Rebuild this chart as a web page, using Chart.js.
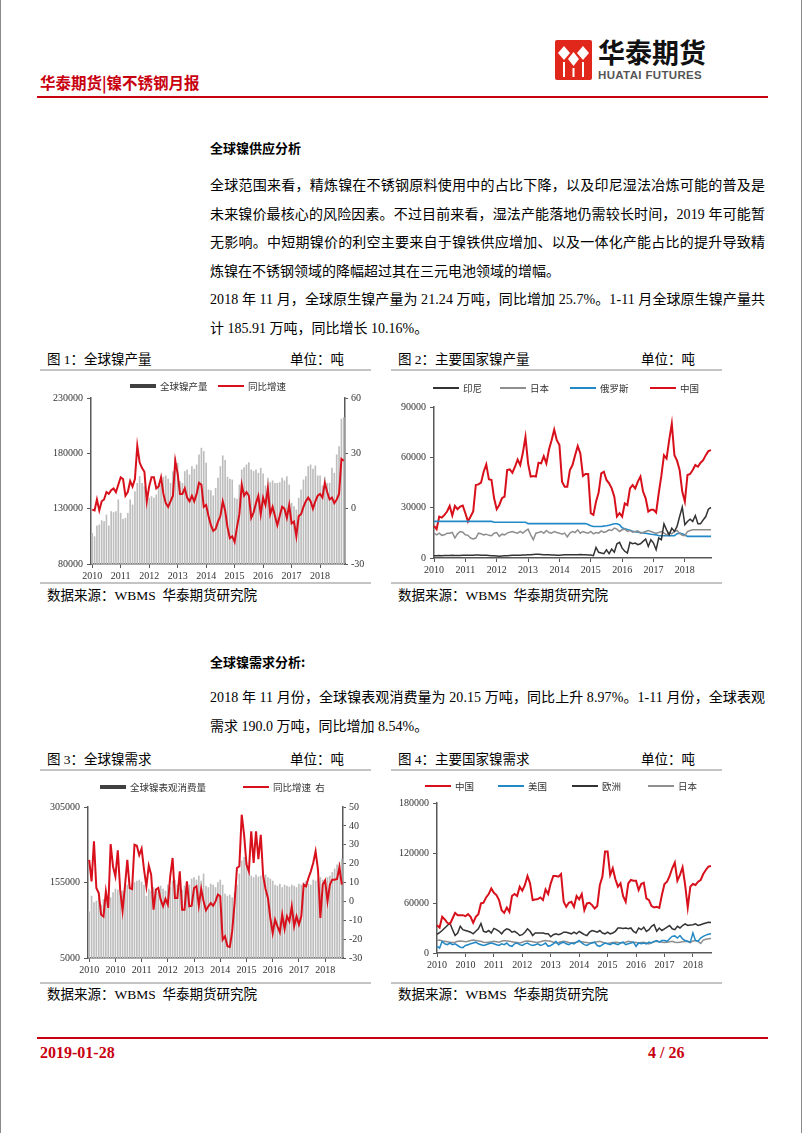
<!DOCTYPE html>
<html>
<head>
<meta charset="utf-8">
<script src="https://cdn.jsdelivr.net/npm/chart.js@4.4.1/dist/chart.umd.min.js"></script>
<style>
html, body { margin: 0; padding: 0; background: #fff; }
#page { position: relative; width: 802px; height: 1133px; overflow: hidden;
        font-family: "Liberation Serif", "Noto Sans CJK SC", serif; color: #000; }
.abs { position: absolute; white-space: nowrap; }
.rule-red { position: absolute; left: 37px; width: 731px; height: 2px; background: #c8000f; }
.rule-gray { position: absolute; height: 2px; background: #c4c4c4; }
.h2 { font-family: "Noto Sans CJK SC", sans-serif; font-weight: bold; font-size: 13px; line-height: 16px; }
.ln { font-size: 14px; line-height: 18px; left: 210px; display: inline-block; }
.cap { font-size: 13.5px; line-height: 16px; }
canvas { position: absolute; }
.edge { position: absolute; top: 0; width: 1px; height: 1133px; background: #8a8a8a; }
</style>
</head>
<body>
<div id="page">
  <div class="edge" style="left:0"></div>
  <div class="edge" style="left:801px"></div>

  <!-- header -->
  <svg class="abs" style="left:555px;top:40px" width="37" height="40" viewBox="0 0 37 40">
    <rect x="0" y="0" width="37" height="40" rx="2" fill="#e1261c"/>
    <path d="M9 6 L15 13 L9 20 L3 13 Z" fill="#fff"/>
    <path d="M28 6 L34 13 L28 20 L22 13 Z" fill="#fff"/>
    <path d="M18.5 12 L24 19 L18.5 26 L13 19 Z" fill="#fff"/>
    <rect x="8" y="22" width="2" height="15" fill="#fff"/>
    <rect x="27" y="22" width="2" height="15" fill="#fff"/>
    <rect x="17.5" y="28" width="2" height="9" fill="#fff"/>
  </svg>
  <div class="abs" style="left:598px;top:36px;font:bold 27px/31px 'Noto Sans CJK SC',sans-serif;color:#111">华泰期货</div>
  <div class="abs" style="left:598px;top:69px;font:bold 11.5px/13px 'Liberation Sans',sans-serif;color:#555;letter-spacing:0.35px">HUATAI FUTURES</div>
  <div class="abs" style="left:40px;top:72px;font:bold 15.5px/20px 'Noto Sans CJK SC',sans-serif;color:#c8000f">华泰期货|镍不锈钢月报</div>
  <div class="rule-red" style="top:96px"></div>

  <!-- supply section -->
  <div class="abs h2" style="left:210px;top:140px">全球镍供应分析</div>
  <div class="abs ln jl" style="top:177px">全球范围来看，精炼镍在不锈钢原料使用中的占比下降，以及印尼湿法冶炼可能的普及是</div>
  <div class="abs ln jl" style="top:206px">未来镍价最核心的风险因素。不过目前来看，湿法产能落地仍需较长时间，2019 年可能暂</div>
  <div class="abs ln jl" style="top:234px">无影响。中短期镍价的利空主要来自于镍铁供应增加、以及一体化产能占比的提升导致精</div>
  <div class="abs ln" style="top:263px">炼镍在不锈钢领域的降幅超过其在三元电池领域的增幅。</div>
  <div class="abs ln jl" style="top:291px">2018 年 11 月，全球原生镍产量为 21.24 万吨，同比增加 25.7%。1-11 月全球原生镍产量共</div>
  <div class="abs ln" style="top:320px">计 185.91 万吨，同比增长 10.16%。</div>

  <div class="abs cap" style="left:47px;top:352px">图 1：全球镍产量</div>
  <div class="abs cap" style="left:290px;top:352px">单位：吨</div>
  <div class="abs cap" style="left:398px;top:352px">图 2：主要国家镍产量</div>
  <div class="abs cap" style="left:641px;top:352px">单位：吨</div>
  <div class="rule-gray" style="left:40px;width:331px;top:369px"></div>
  <div class="rule-gray" style="left:391px;width:331px;top:369px"></div>
  <canvas id="c1" width="332" height="211" style="left:40px;top:371px"></canvas>
  <canvas id="c2" width="331" height="211" style="left:391px;top:371px"></canvas>
  <div class="rule-gray" style="left:40px;width:331px;top:582px"></div>
  <div class="rule-gray" style="left:391px;width:331px;top:582px"></div>
  <div class="abs cap" style="left:47px;top:588px">数据来源：WBMS&nbsp; 华泰期货研究院</div>
  <div class="abs cap" style="left:398px;top:588px">数据来源：WBMS&nbsp; 华泰期货研究院</div>

  <!-- demand section -->
  <div class="abs h2" style="left:210px;top:654px">全球镍需求分析:</div>
  <div class="abs ln jl" style="top:689px">2018 年 11 月份，全球镍表观消费量为 20.15 万吨，同比上升 8.97%。1-11 月份，全球表观</div>
  <div class="abs ln" style="top:718px">需求 190.0 万吨，同比增加 8.54%。</div>

  <div class="abs cap" style="left:47px;top:752px">图 3：全球镍需求</div>
  <div class="abs cap" style="left:290px;top:752px">单位：吨</div>
  <div class="abs cap" style="left:398px;top:752px">图 4：主要国家镍需求</div>
  <div class="abs cap" style="left:641px;top:752px">单位：吨</div>
  <div class="rule-gray" style="left:40px;width:331px;top:769px"></div>
  <div class="rule-gray" style="left:391px;width:331px;top:769px"></div>
  <canvas id="c3" width="332" height="211" style="left:40px;top:771px"></canvas>
  <canvas id="c4" width="331" height="211" style="left:391px;top:771px"></canvas>
  <div class="rule-gray" style="left:40px;width:331px;top:982px"></div>
  <div class="rule-gray" style="left:391px;width:331px;top:982px"></div>
  <div class="abs cap" style="left:47px;top:987px">数据来源：WBMS&nbsp; 华泰期货研究院</div>
  <div class="abs cap" style="left:398px;top:987px">数据来源：WBMS&nbsp; 华泰期货研究院</div>

  <!-- footer -->
  <div class="rule-red" style="top:1037px"></div>
  <div class="abs" style="left:40px;top:1043px;font:bold 16px/20px 'Liberation Serif',serif;color:#c8000f">2019-01-28</div>
  <div class="abs" style="left:648px;top:1043px;font:bold 16px/20px 'Liberation Serif',serif;color:#c8000f">4 / 26</div>
</div>

<script>
// ── Categories / tick labels ─────────────────────────────────────────────
const MONTHS = [];   // 2010-01 … 2018-11
for (let y = 2010; y <= 2018; y++) {
    for (let m = 1; m <= 12; m++) {
        if (MONTHS.length < 107) MONTHS.push(y + '-' + String(m).padStart(2, '0'));
    }
}
const SUPPLY_TICKS = ['2010', '2011', '2012', '2013', '2014', '2015', '2016', '2017', '2018'];           // every 12 months
const DEMAND_TICKS = ['2010', '2010', '2011', '2012', '2013', '2014', '2015', '2016', '2017', '2018'];   // every 11 months

// ── Fig 1: global output (t) and YoY (%) ─────────────────────────────────
const WORLD_OUTPUT = [
    107800, 104700, 114400, 115300, 119200, 118300, 124400, 114400, 127400, 126500, 127400, 138000,
    125900, 120400, 121400, 125900, 138000, 133400, 145500, 153000, 159100, 153000, 150000, 138000,
    139500, 141000, 139500, 142500, 153000, 151500, 158500, 159700, 156700, 153000, 163600, 176600,
    171100, 154600, 153000, 163600, 165100, 160600, 168100, 165700, 169600, 178700, 184700, 181700,
    171100, 147000, 146400, 141600, 148500, 157600, 168100, 177800, 173600, 158500, 156700, 156000,
    139500, 138600, 151500, 165100, 167200, 169600, 171700, 165100, 163600, 165100, 162100, 166600,
    161500, 150600, 157600, 153600, 155200, 153000, 153000, 153600, 157600, 155200, 159100, 151500,
    134900, 131900, 128900, 139500, 147000, 156000, 159100, 168100, 169600, 165700, 168700, 159700,
    159700, 150600, 158500, 153000, 153000, 166600, 162100, 178700, 186200, 211000, 212400
];
const WORLD_OUTPUT_YOY = [
    -0.5, -1, 5, -1, 4, 5, 9, 8, 10, 11, 9, 13,
    17, 16, 7, 9, 15, 12, 16, 34, 25, 22, 20, 4,
    12, 17, 17, 11, 12, 17, 8, 3, 1, 4, 7, 26,
    19, 8, 8, 11, 6, 4, 7, 4, 8, 14, 13, 1,
    2, -4, -9, -12, -11, -7, -4, 4, -1, -10, -16, -15,
    -18, -10, -3, 13, 7, 9, 7, -5, -2, 3, 7, -3,
    6, 2, 11, -3, 1, -4, -9, -4, 1, 0, -5, 2,
    -8, -7, -15, -4, -3, 1, 4, 6, 4, 0, 4, 7,
    8, 6, 14, 9, 5, 6, 3, 5, 8, 27, 26
];

// ── Fig 2: output by country (t) ─────────────────────────────────────────
const OUT_INDONESIA = [
    1400, 1400, 1500, 1400, 1500, 1500, 1500, 1600, 1500, 1500, 1500, 1600,
    1600, 1700, 1700, 1700, 1800, 1800, 1700, 1700, 1600, 1500, 1400, 1300,
    1200, 1100, 1200, 1300, 1400, 1500, 1600, 1600, 1700, 1700, 1800, 1800,
    1900, 2000, 2100, 2200, 2200, 2100, 2000, 1900, 1900, 1800, 1800, 1700,
    1700, 1800, 1900, 2000, 2000, 1900, 1900, 2000, 2100, 2000, 1900, 1800,
    1800, 1400, 6300, 3400, 3000, 2600, 4900, 2600, 5300, 3400, 8500, 9300,
    5900, 4000, 3000, 9300, 8500, 8900, 7900, 8500, 9900, 11300, 6900, 10900,
    8900, 4900, 11900, 10900, 20400, 16800, 13800, 17800, 15800, 18800, 24700, 30300,
    19800, 21800, 23100, 21800, 25300, 20400, 20400, 22700, 24700, 29100, 30100
];
const OUT_JAPAN = [
    14800, 13800, 14800, 13500, 13800, 14800, 14800, 15200, 11900, 14400,
    15800, 15400, 13800, 13500, 11900, 11300, 11900, 14800, 14400, 13800,
    14200, 13500, 13300, 14800, 15200, 12900, 14200, 13800, 14800, 15400,
    15800, 15200, 14800, 15800, 14800, 16200, 17200, 13800, 10900, 14800,
    15200, 15800, 14800, 16400, 15200, 14800, 15800, 15200, 14800, 14200,
    14800, 12500, 14800, 15800, 15200, 16800, 14800, 15800, 15200, 14800,
    15800, 14400, 15200, 14800, 16200, 15200, 15800, 16800, 16400, 17800,
    17200, 15800, 16800, 17200, 15800, 16400, 15400, 15800, 16200, 14800,
    15200, 15800, 16400, 15800, 15200, 14800, 15200, 15800, 14800, 13800,
    15200, 14400, 15800, 16400, 14800, 13500, 13300, 15800, 16400, 16800,
    16800, 16800, 16800, 16800, 16800, 16800, 16800
];
const OUT_RUSSIA = [
    21800, 21800, 21800, 21800, 21800, 21800, 21800, 21800, 21800, 21800, 21800, 21800,
    21800, 21800, 21800, 21800, 21800, 21800, 21800, 21800, 21800, 21800, 21800, 21300,
    21300, 21300, 21300, 21300, 21300, 21300, 21300, 21300, 21300, 21300, 21300, 21300,
    20500, 20500, 20500, 20500, 20500, 20500, 20500, 20500, 20500, 20500, 20500, 20500,
    20500, 20500, 20500, 20500, 20500, 20500, 20500, 20500, 20500, 20500, 20500, 20000,
    19200, 18800, 18800, 18800, 18800, 19000, 19200, 19500, 20000, 20400, 20400, 19800,
    18000, 17500, 17000, 16500, 16000, 15600, 15400, 15200, 15000, 14800, 14500, 14200,
    14000, 13800, 13300, 13300, 13300, 13300, 13300, 13300, 13300, 14500, 14800, 14500,
    13800, 12900, 12900, 12900, 12900, 12900, 12900, 12900, 12900, 12900, 12900
];
const OUT_CHINA = [
    19200, 17200, 24700, 24100, 25700, 27700, 31000, 25300, 31000, 29100,
    30700, 31300, 26700, 21800, 24700, 27700, 43500, 43900, 44900, 51400,
    55800, 46900, 46500, 35600, 29100, 31600, 35600, 36600, 52400, 52800,
    50800, 54400, 58700, 55400, 62700, 72200, 56400, 48500, 48900, 48500,
    56800, 56400, 60700, 56400, 64700, 70200, 76500, 70200, 67300, 45500,
    42500, 42500, 52400, 55400, 61300, 66700, 62300, 48900, 50100, 50100,
    26700, 25700, 33600, 39000, 50400, 51400, 46500, 44500, 41500, 36600,
    24700, 26700, 24700, 32600, 31600, 41500, 43500, 41500, 45500, 48500,
    39600, 35600, 27700, 28700, 28700, 27100, 38600, 48900, 61300, 59300,
    70200, 80100, 61300, 58000, 52400, 39600, 33600, 49500, 50100, 52400,
    55400, 54400, 56800, 58300, 61300, 63700, 64300
];

// ── Fig 3: apparent consumption (t) and YoY (%) ──────────────────────────
const WORLD_DEMAND = [
    97000, 128000, 115000, 118000, 124000, 110000, 121000, 127000, 119000, 125000, 135000, 142000,
    140000, 145000, 138000, 148000, 150000, 145000, 152000, 155000, 158000, 160000, 156000, 150000,
    128000, 142000, 138000, 145000, 140000, 135000, 148000, 142000, 138000, 150000, 145000, 158000,
    160000, 150000, 145000, 140000, 148000, 142000, 150000, 162000, 165000, 160000, 168000, 158000,
    172000, 148000, 145000, 152000, 150000, 145000, 155000, 160000, 150000, 132000, 128000, 130000,
    125000, 135000, 150000, 172000, 198000, 205000, 195000, 185000, 168000, 165000, 170000, 166000,
    168000, 172000, 170000, 165000, 162000, 158000, 150000, 148000, 152000, 145000, 150000, 148000,
    146000, 150000, 148000, 145000, 152000, 150000, 155000, 158000, 152000, 150000, 160000, 158000,
    162000, 165000, 160000, 158000, 165000, 168000, 175000, 182000, 190000, 195000, 201500
];
const WORLD_DEMAND_YOY = [
    22, 10.6, 31.8, 7.1, 4.4, -7, -8, 5.3, -3.5, 30.4, 18.5, 13.2,
    27, 6.2, -5, 8, 22, 7, 6.5, 30, 29.5, 24.5, 28, 17,
    8, 18.9, 14.1, -4.4, 6.2, 7.1, 0.9, -2.6, 1.3, -1.7, 13.3, 23,
    1.8, 1.8, 15.9, -4.4, -4.4, 10.6, -2.6, -2.3, 7.1, 8, -2.3, 6.6,
    0, -4.7, -2.6, -0.9, -2.3, 0, 3.6, 2.7, -20.3, -18.5, -23.8, -24.2,
    -15.9, -0.9, 17.7, 18.6, 45.9, 35.3, 19.5, 15.9, 37.1, 20.4, 37.1, 22.4,
    35.3, 13.6, 6.6, 1.8, -8.8, -16.8, -9.7, -13.2, -16.4, -7, -14.6, -7.9,
    -10.6, -2.6, -13.2, -7.9, -12.3, -7.9, 8.9, 8, 12.4, 15.9, 20.3, 26.5,
    16.8, -8.8, 8.9, 11.1, 0, 8.9, 11.5, 11.5, 11.9, 18.2, 8.9
];

// ── Fig 4: demand by country (t) ─────────────────────────────────────────
const DEM_CHINA = [
    33300, 30500, 43400, 40200, 36200, 34600, 41400, 48200, 45400, 45400,
    45400, 44200, 46600, 43400, 36200, 43400, 46600, 59500, 60300, 66700,
    70700, 77500, 72300, 69500, 63500, 51400, 48200, 54600, 49400, 68300,
    70700, 68300, 79600, 74700, 81600, 92400, 83600, 63500, 64300, 64700,
    66700, 63500, 76300, 70700, 83600, 92400, 92400, 91600, 94800, 61500,
    55400, 60300, 61500, 55400, 68300, 64300, 70700, 51400, 59500, 60300,
    57500, 53400, 56300, 81600, 91600, 121700, 121700, 93600, 101700, 88400,
    79600, 83600, 68300, 61500, 83600, 87600, 86800, 86800, 75500, 82800,
    84400, 65500, 63500, 56300, 54600, 55400, 54200, 69500, 82800, 85600,
    92400, 101700, 108500, 86800, 93600, 102900, 81600, 54600, 79600, 82800,
    81600, 85600, 87600, 94800, 99600, 103700, 104500
];
const DEM_USA = [
    8000, 6000, 14000, 11000, 10000, 12000, 10000, 11000, 9000, 7000,
    6500, 9000, 10000, 11000, 12000, 13000, 11000, 10000, 9000, 10000,
    11000, 12000, 11000, 10000, 9000, 11000, 10000, 12000, 9000, 8000,
    11000, 12000, 10000, 9000, 11000, 12000, 10000, 9000, 10000, 11000,
    9000, 10000, 12000, 8000, 9000, 11000, 14000, 10000, 12000, 13000,
    11000, 10000, 12000, 11000, 13000, 15000, 12000, 10000, 9000, 11000,
    12000, 13000, 9000, 8000, 10000, 12000, 11000, 10000, 12000, 11000,
    10000, 12000, 13000, 10000, 11000, 12000, 13000, 8000, 12000, 11000,
    12000, 11000, 13000, 12000, 14000, 15000, 13000, 15000,
    15000, 14000, 17000, 20000, 20500, 18000, 21000, 17000, 15000, 14000,
    13000, 24000, 15000, 14000, 18000, 20000, 21500, 22500, 23000
];
const DEM_EUROPE = [
    22500, 24500, 27000, 30000, 33000, 36000, 28000, 21000, 24000, 32000,
    28000, 27000, 26000, 25000, 23000, 26000, 29000, 35500, 26000, 25000,
    27000, 24000, 29500, 28000, 26000, 23000, 27000, 29000, 28000, 25000,
    26000, 24000, 21000, 22000, 25000, 29000, 26000, 21000, 24000, 24000,
    24000, 24000, 23000, 23000, 19500, 22000, 23000, 22000, 23000, 25000,
    25000, 24000, 23000, 25000, 23000, 26000, 24000, 22000, 21000, 25000,
    27000, 26000, 25000, 27000, 24000, 23000, 25000, 23000, 24000, 26000,
    30000, 30000, 29500, 30000, 29000, 30000, 26000, 24000, 30000, 28000,
    31000, 26000, 28000, 32000, 34000, 26000, 30000, 27000, 29000, 31000,
    33000, 29000, 28000, 32000, 30000, 33000, 35000, 33000, 33500, 34000,
    35000, 33000, 34000, 35000, 36000, 37000, 36500
];
const DEM_JAPAN = [
    15000, 15500, 14500, 14000, 13500, 13000, 12500, 13000, 14000, 14500, 14000, 13500,
    14000, 15000, 15500, 15000, 14500, 14000, 13000, 12500, 13000, 13500, 14000, 13500,
    13000, 14000, 15000, 14500, 14000, 13500, 13000, 12500, 12000, 13000, 14000, 14500,
    14000, 13500, 13000, 12500, 13500, 14500, 15000, 14500, 14000, 13000, 12000, 12500,
    13500, 14000, 13500, 12500, 12000, 12500, 13000, 14000, 13500, 13000, 12500, 12000,
    12500, 13000, 13500, 14000, 13000, 12000, 11500, 12000, 12500, 13000, 12500, 12000,
    12500, 13000, 14000, 13500, 13000, 12500, 12000, 12500, 13000, 12000, 11000, 12500,
    13500, 14000, 13500, 13000, 12500, 13000, 13500, 14000, 13000, 12500, 13000, 13500,
    14000, 13500, 12500, 14500, 15000, 14000, 11500, 15500, 16500, 17000, 17500
];

// ── Style ────────────────────────────────────────────────────────────────
const RED = '#d8101c';
const BLUE = '#2389c6';
const GREY_LINE = '#8e8e8e';
const DARK_LINE = '#333333';
const BAR_GREY = '#bdbdbd';
const LEGEND_BAR = '#404040';
const AXIS = '#595959';
const TEXT = '#333333';
const NUM_FONT = { family: '"Liberation Serif", "Noto Sans CJK SC", serif', size: 10 };

// Legend row drawn inside the canvas, one marker + label per dataset
const rowLegend = {
    id: 'rowLegend',
    afterDraw(chart, args, opts) {
        if (!opts.items) return;
        const ctx = chart.ctx;
        ctx.save();
        ctx.font = '9.5px "Noto Sans CJK SC", sans-serif';
        ctx.textBaseline = 'middle';
        opts.items.forEach(it => {
            const ds = chart.data.datasets[it.ds];
            const h = it.h || 2;
            ctx.fillStyle = it.color || ds.borderColor;
            ctx.fillRect(it.x, opts.y - h / 2, 26, h);
            ctx.fillStyle = TEXT;
            ctx.fillText(ds.label, it.x + 30, opts.y + 0.5);
        });
        ctx.restore();
    }
};

function xAxis(every, names, height, offset) {
    return {
        type: 'category',
        offset,
        grid: {
            drawOnChartArea: false,
            offset: false,
            tickLength: 4,
            color: c => (c.index % every === 0 ? AXIS : 'rgba(0,0,0,0)')
        },
        border: { color: AXIS, width: 1.5 },
        ticks: {
            autoSkip: false,
            maxRotation: 0,
            padding: 2,
            color: TEXT,
            font: NUM_FONT,
            callback: (v, i) => (i % every === 0 ? names[i / every] : '')
        },
        afterFit: s => { s.height = height; }
    };
}

function yAxis(position, min, max, step, width) {
    return {
        position,
        min,
        max,
        grid: { drawOnChartArea: false, tickLength: position === 'left' ? 4 : 3, color: AXIS },
        border: { color: AXIS, width: 1.5 },
        ticks: { stepSize: step, padding: position === 'left' ? 4 : 3, color: TEXT, font: NUM_FONT, callback: v => String(v) },
        afterFit: s => { s.width = width; }
    };
}

function lineSet(label, data, color, width) {
    return { type: 'line', label, data, borderColor: color, backgroundColor: color, borderWidth: width,
             pointRadius: 0, tension: 0, yAxisID: 'y', order: 0 };
}

function baseOptions(padding, legend, scales) {
    return {
        responsive: false,
        animation: false,
        events: [],
        layout: { padding },
        plugins: { legend: { display: false }, tooltip: { enabled: false }, rowLegend: legend },
        scales
    };
}

// Fig 1
new Chart(document.getElementById('c1'), {
    type: 'bar',
    plugins: [rowLegend],
    data: {
        labels: MONTHS,
        datasets: [
            { type: 'line', label: '同比增速', data: WORLD_OUTPUT_YOY, borderColor: RED, borderWidth: 2,
              pointRadius: 0, tension: 0, yAxisID: 'yr', order: 0 },
            { type: 'bar', label: '全球镍产量', data: WORLD_OUTPUT, backgroundColor: BAR_GREY,
              barThickness: 1, yAxisID: 'y', order: 1 }
        ]
    },
    options: baseOptions(
        { top: 27, left: 0, right: 0, bottom: 0 },
        { y: 15, items: [{ ds: 1, x: 90, h: 4, color: LEGEND_BAR }, { ds: 0, x: 178, h: 2 }] },
        {
            x: xAxis(12, SUPPLY_TICKS, 18, true),
            y: yAxis('left', 80000, 230000, 50000, 51),
            yr: yAxis('right', -30, 60, 30, 27)
        }
    )
});

// Fig 2
new Chart(document.getElementById('c2'), {
    type: 'line',
    plugins: [rowLegend],
    data: {
        labels: MONTHS,
        datasets: [
            lineSet('印尼', OUT_INDONESIA, DARK_LINE, 1.5),
            lineSet('日本', OUT_JAPAN, GREY_LINE, 1.5),
            lineSet('俄罗斯', OUT_RUSSIA, BLUE, 1.6),
            lineSet('中国', OUT_CHINA, RED, 2)
        ]
    },
    options: baseOptions(
        { top: 36, left: 0, right: 11, bottom: 0 },
        { y: 17, items: [{ ds: 0, x: 42 }, { ds: 1, x: 109 }, { ds: 2, x: 179 }, { ds: 3, x: 259 }] },
        {
            x: xAxis(12, SUPPLY_TICKS, 24, false),
            y: yAxis('left', 0, 90000, 30000, 43)
        }
    )
});

// Fig 3
new Chart(document.getElementById('c3'), {
    type: 'bar',
    plugins: [rowLegend],
    data: {
        labels: MONTHS,
        datasets: [
            { type: 'line', label: '同比增速  右', data: WORLD_DEMAND_YOY, borderColor: RED, borderWidth: 2,
              pointRadius: 0, tension: 0, yAxisID: 'yr', order: 0 },
            { type: 'bar', label: '全球镍表观消费量', data: WORLD_DEMAND, backgroundColor: BAR_GREY,
              barThickness: 1, yAxisID: 'y', order: 1 }
        ]
    },
    options: baseOptions(
        { top: 36, left: 0, right: 0, bottom: 0 },
        { y: 16, items: [{ ds: 1, x: 60, h: 4, color: LEGEND_BAR }, { ds: 0, x: 203, h: 2 }] },
        {
            x: xAxis(11, DEMAND_TICKS, 24, true),
            y: yAxis('left', 5000, 305000, 150000, 48),
            yr: yAxis('right', -30, 50, 10, 29)
        }
    )
});

// Fig 4
new Chart(document.getElementById('c4'), {
    type: 'line',
    plugins: [rowLegend],
    data: {
        labels: MONTHS,
        datasets: [
            lineSet('中国', DEM_CHINA, RED, 2),
            lineSet('美国', DEM_USA, BLUE, 1.5),
            lineSet('欧洲', DEM_EUROPE, DARK_LINE, 1.5),
            lineSet('日本', DEM_JAPAN, GREY_LINE, 1.5)
        ]
    },
    options: baseOptions(
        { top: 32, left: 0, right: 11, bottom: 0 },
        { y: 15, items: [{ ds: 0, x: 34 }, { ds: 1, x: 107 }, { ds: 2, x: 181 }, { ds: 3, x: 257 }] },
        {
            x: xAxis(11, DEMAND_TICKS, 29, false),
            y: yAxis('left', 0, 180000, 60000, 46)
        }
    )
});

// ── Justify body lines to the 555px text column ───────────────────────────
document.querySelectorAll('.jl').forEach(el => {
    const n = [...el.textContent].length;
    const w = el.getBoundingClientRect().width;
    el.style.letterSpacing = ((555 - w) / (n - 1)) + 'px';
});
</script>
</body>
</html>
